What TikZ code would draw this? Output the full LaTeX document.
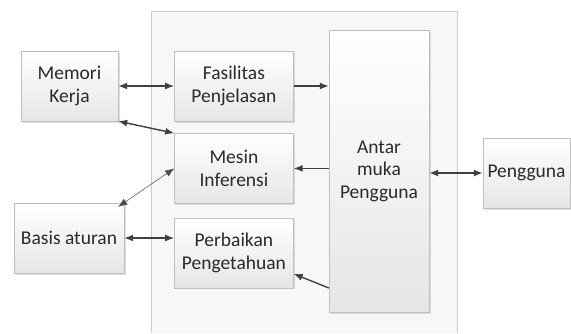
\documentclass[tikz,border=0pt]{standalone}
\usepackage{fontspec}
\setmainfont{Carlito}
\usepackage{tikz}
\usetikzlibrary{positioning, arrows.meta, shadows}

\definecolor{boxline}{HTML}{BFBFBF}
\definecolor{boxtext}{HTML}{2A2A2A}
\definecolor{arrowgray}{HTML}{404040}

\begin{document}
\begin{tikzpicture}[
  x=1pt, y=-1pt,
  font=\fontsize{19.5}{22.5}\selectfont,
  blok/.style={draw=boxline, top color=white, bottom color=black!10,
    minimum height=70pt, align=center, inner sep=2pt, text=boxtext,
    drop shadow={shadow xshift=1.5pt, shadow yshift=-1.5pt, opacity=0.25}},
  arrow/.style={-{Latex[length=9pt,width=7pt]}, line width=1.4pt, arrowgray},
  dua/.style={{Latex[length=9pt,width=7pt]}-{Latex[length=9pt,width=7pt]},
    line width=1.4pt, arrowgray},
  tipis/.style={{Latex[length=9pt,width=7pt]}-{Latex[length=9pt,width=7pt]},
    line width=0.5pt, black!70},
]
  \useasboundingbox (0,0) rectangle (571,333);

  % kotak luar sistem pakar
  \fill[black!3] (151,11) rectangle (457,333);
  \draw[black!20, line width=1pt] (151,333) -- (151,11) -- (457,11) -- (457,333);

  \node[blok, minimum width=97pt] (kerja) at (69.5,86) {Memori\\Kerja};
  \node[blok, minimum width=119pt, right=56pt of kerja] (fasilitas) {Fasilitas\\Penjelasan};
  \node[blok, minimum width=119pt, below=12pt of fasilitas] (mesin) {Mesin\\Inferensi};
  \node[blok, minimum width=119pt, below=14pt of mesin] (perbaikan) {Perbaikan\\Pengetahuan};
  \node[blok, minimum width=110pt] (basis) at (69,238) {Basis aturan};
  \node[blok, minimum width=100pt, minimum height=282pt] (antarmuka) at (379,171) {Antar\\muka\\Pengguna};
  \node[blok, minimum width=87pt] (pengguna) at (526.5,173) {Pengguna};

  \draw[dua] (kerja.east) -- (fasilitas.west);
  \draw[dua] (kerja.south east) -- (mesin.north west);
  \draw[tipis] ([xshift=-6pt, yshift=-4pt]basis.north east) -- (mesin.west);
  \draw[dua] (basis.east) -- (basis.east -| perbaikan.west);
  \draw[arrow] (fasilitas.east) -- (fasilitas.east -| antarmuka.west);
  \draw[arrow] (antarmuka.west |- mesin.east) -- (mesin.east);
  \draw[arrow] (antarmuka.west |- perbaikan.south) -- ([yshift=-21pt]perbaikan.east);
  \draw[dua] (antarmuka.east |- pengguna.west) -- (pengguna.west);
\end{tikzpicture}
\end{document}
